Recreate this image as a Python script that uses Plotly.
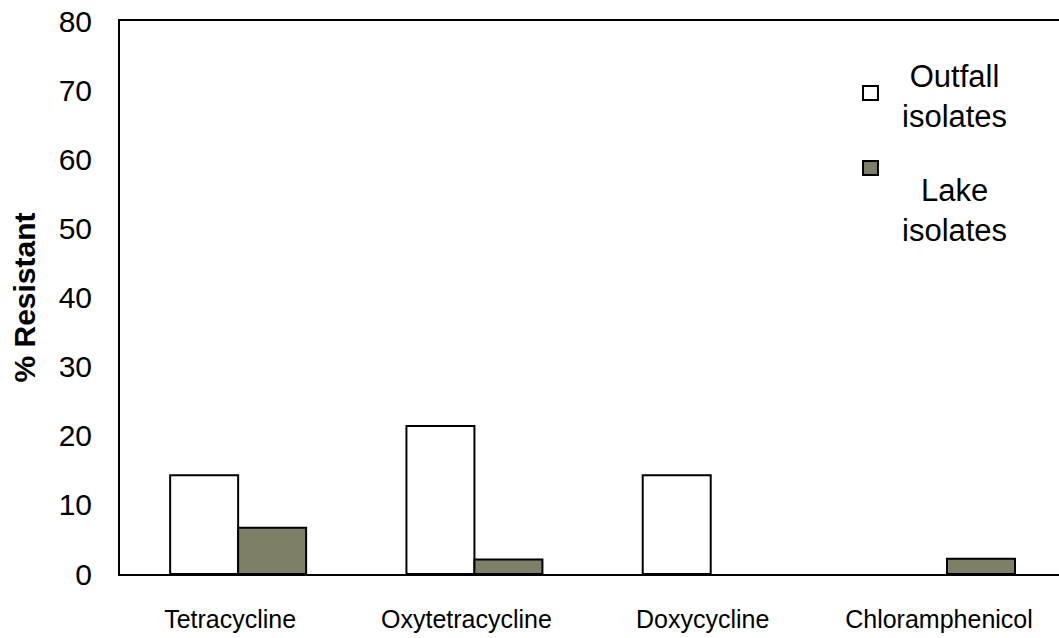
import plotly.graph_objects as go

categories = ["Tetracycline", "Oxytetracycline", "Doxycycline", "Chloramphenicol"]
outfall = [14.3, 21.4, 14.3, 0]
lake = [6.7, 2.1, 0, 2.2]
series_names = ["Outfall<br>isolates", "Lake<br>isolates"]
series_colors = ["white", "#7f7f67"]
y_ticks = [0, 10, 20, 30, 40, 50, 60, 70, 80]

fig = go.Figure()
for vals, name, col in zip([outfall, lake], series_names, series_colors):
    fig.add_trace(go.Bar(
        x=categories, y=vals, name=name, showlegend=False,
        marker=dict(color=col, line=dict(color="black",
                                         width=[2 if v > 0 else 0 for v in vals]))))

# manual legend (centered multi-line text like the original)
legend_text_y = [0.8626, 0.658]
legend_sq_y = [(0.8571, 0.8825), (0.7215, 0.7468)]
for name, col, ty, (y0, y1) in zip(series_names, series_colors, legend_text_y, legend_sq_y):
    fig.add_annotation(xref="paper", yref="paper", x=0.889, y=ty, text=name,
                       showarrow=False, align="center", xanchor="center", yanchor="middle",
                       font=dict(size=31, family="Liberation Sans, Arial", color="black"))
    fig.add_shape(type="rect", xref="paper", yref="paper", x0=0.7913, x1=0.8072,
                  y0=y0, y1=y1, fillcolor=col, line=dict(color="black", width=2))

fig.update_layout(
    width=1059, height=638,
    margin=dict(l=120, r=0, t=21, b=64),
    paper_bgcolor="white", plot_bgcolor="white",
    font=dict(family="Liberation Sans, Arial", color="black"),
    barmode="group", bargap=0.4245, bargroupgap=0,
    xaxis=dict(range=[-0.5, 3.474], showline=True, linecolor="black", linewidth=2,
               mirror=True, ticks="", showgrid=False, automargin=False,
               tickfont=dict(size=25), ticklabelstandoff=22, ticklabelshift=-8),
    yaxis=dict(range=[0, 80], tickvals=y_ticks, showline=True, linecolor="black",
               linewidth=2, ticks="", showgrid=False, zeroline=False, automargin=False,
               tickfont=dict(size=30), ticklabelstandoff=20,
               title=dict(text="<b>% Resistant</b>", font=dict(size=30), standoff=14)),
)

fig.write_html("out.html", config={"displayModeBar": False},
               post_script="document.body.style.margin='0';document.body.style.overflow='hidden';")
